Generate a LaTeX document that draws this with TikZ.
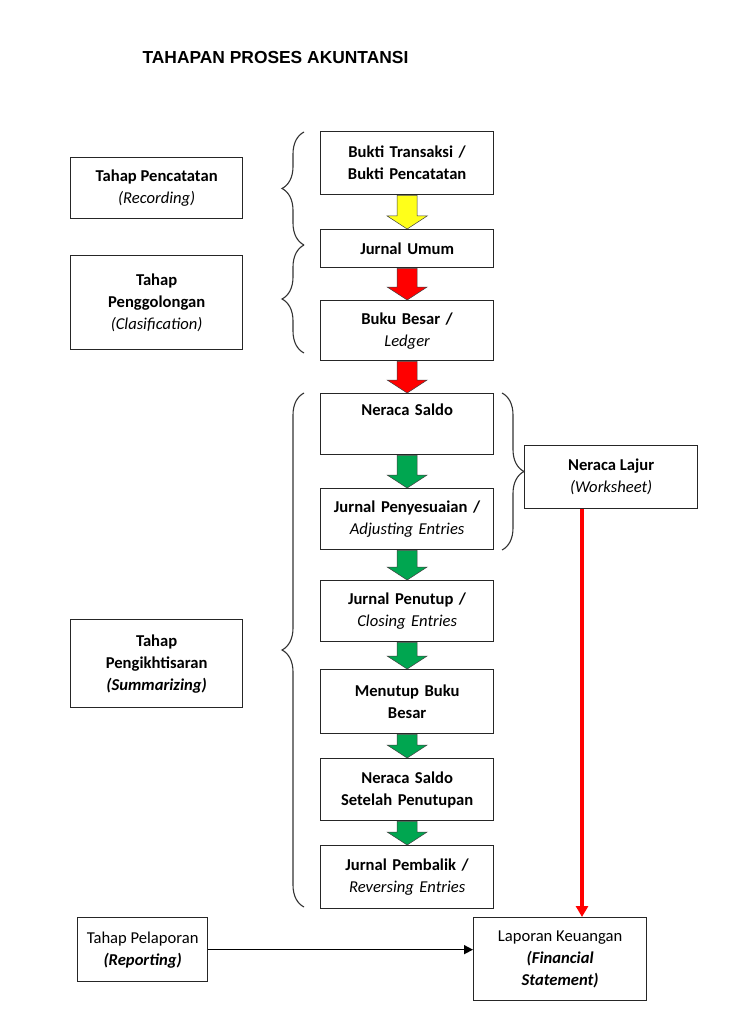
\documentclass[tikz,border=0pt]{standalone}
\usepackage{fontspec}
\setmainfont{Carlito}
\newfontfamily\titlefont{Liberation Sans}
\usetikzlibrary{decorations.pathreplacing,arrows.meta,calc}
\newcommand\blockarr[3]{%
  \filldraw[fill=#1,draw=black!75,line width=0.5pt] let \p1=(#2.south), \p2=(#3.north) in
    (\x1-10pt,\y1) -- (\x1+10pt,\y1) -- (\x1+10pt,\y2+13pt) -- (\x1+20pt,\y2+13pt)
    -- (\x1,\y2) -- (\x1-20pt,\y2+13pt) -- (\x1-10pt,\y2+13pt) -- cycle;}
\definecolor{gr}{HTML}{00A650}
\definecolor{yl}{HTML}{FFFF1A}
\definecolor{rd}{HTML}{FF0000}
\begin{document}
\begin{tikzpicture}[x=1pt,y=-1pt,
  box/.style={draw=black!85,line width=1.3pt,anchor=north west,align=center,
    inner sep=2pt,font=\fontsize{16.6}{22}\selectfont},
  flow/.style={box,minimum width=173pt,text width=169pt},
  brc/.style={draw=black!80,line width=1.1pt,decorate,decoration={brace,amplitude=22pt,aspect=#1}},
  brc/.default=0.5]
\useasboundingbox (0,0) rectangle (730,1024);
\fill[white] (0,0) rectangle (730,1024);
\node[anchor=west,font=\titlefont\fontsize{17.4}{20}\selectfont\bfseries] (title) at (139,58) {TAHAPAN PROSES AKUNTANSI};
% left boxes
\node[box,minimum width=172pt,minimum height=61pt] (rec) at (70,157) {\textbf{Tahap Pencatatan}\\\textit{(Recording)}};
\node[box,minimum width=172pt,minimum height=94pt] (cla) at (70,255) {\textbf{Tahap}\\\textbf{Penggolongan}\\\textit{(Clasification)}};
\node[box,minimum width=172pt,minimum height=88pt] (sum) at (70,619) {\textbf{Tahap}\\\textbf{Pengikhtisaran}\\\textbf{\textit{(Summarizing)}}};
\node[box,minimum width=130pt,minimum height=64pt] (rep) at (77,917) {Tahap Pelaporan\\\textbf{\textit{(Reporting)}}};
% flow boxes
\node[flow,minimum height=63pt] (bukti) at (320,131) {\textbf{Bukti Transaksi /}\\\textbf{Bukti Pencatatan}};
\node[flow,minimum height=38pt] (ju) at (320,229) {\textbf{Jurnal Umum}};
\node[flow,minimum height=60pt] (bb) at (320,300) {\textbf{Buku Besar /}\\\textit{Ledger}};
\node[flow,minimum height=61pt] (ns) at (320,393) {\textbf{Neraca Saldo}\\\strut};
\node[flow,minimum height=61pt] (jp) at (320,488) {\textbf{Jurnal Penyesuaian /}\\\textit{Adjusting Entries}};
\node[flow,minimum height=61pt] (jt) at (320,580) {\textbf{Jurnal Penutup /}\\\textit{Closing Entries}};
\node[flow,minimum height=64pt] (mb) at (320,669) {\textbf{Menutup Buku}\\\textbf{Besar}};
\node[flow,minimum height=62pt] (nst) at (320,758) {\textbf{Neraca Saldo}\\\textbf{Setelah Penutupan}};
\node[flow,minimum height=63pt] (jb) at (320,845) {\textbf{Jurnal Pembalik /}\\\textit{Reversing Entries}};
% right boxes
\node[box,minimum width=173pt,minimum height=63pt] (nl) at (524,445) {\textbf{Neraca Lajur}\\\textit{(Worksheet)}};
\node[box,minimum width=173pt,minimum height=83pt] (lk) at (473,917) {Laporan Keuangan\\\textbf{\textit{(Financial}}\\\textbf{\textit{Statement)}}};
% block arrows
\blockarr{yl}{bukti}{ju}
\blockarr{rd}{ju}{bb}
\blockarr{rd}{bb}{ns}
\blockarr{gr}{ns}{jp}
\blockarr{gr}{jp}{jt}
\blockarr{gr}{jt}{mb}
\blockarr{gr}{mb}{nst}
\blockarr{gr}{nst}{jb}
% braces
\coordinate (b1t) at (304,132);
\coordinate (b1b) at (304,245);
\coordinate (b2b) at (304,353);
\coordinate (b3t) at (304,393);
\coordinate (b3b) at (304,907);
\coordinate (b4t) at (502,393);
\coordinate (b4b) at (502,550);
\draw[brc] (b1b) -- (b1t);
\draw[brc] (b2b) -- (b1b);
\draw[brc] (b3b) -- (b3t);
\draw[brc] (b4t) -- (b4b);
% connectors
\draw[rd,line width=3.2pt,-{Triangle[length=11pt,width=12pt]}] (nl.south -| 582,0) -- (lk.north -| 582,0);
\draw[black,line width=1.6pt,-{Triangle[length=9pt,width=9pt]}] (rep.east) -- (rep.east -| lk.west);
\end{tikzpicture}
\end{document}
